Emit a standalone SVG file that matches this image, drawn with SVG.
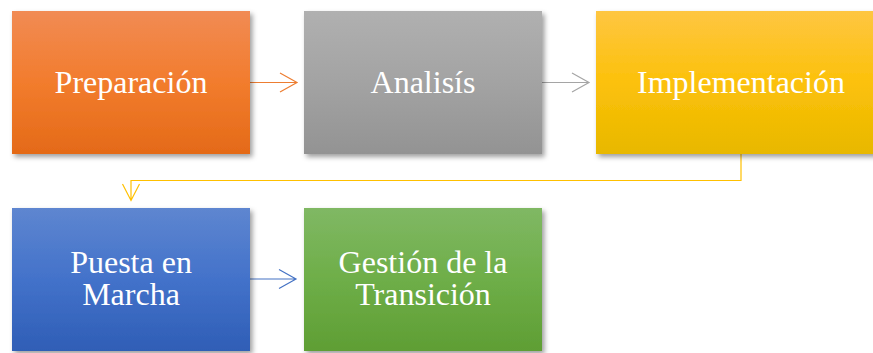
<svg xmlns="http://www.w3.org/2000/svg" width="873" height="353" viewBox="0 0 873 353">
<style>
  .box { filter: url(#sh); }
  .lbl { font-family: "Liberation Serif", "Times New Roman", serif; font-size: 32px; fill: #ffffff; text-anchor: middle; }
  .conn { fill: none; stroke-width: 1.2; }
</style>
<defs>
  <filter id="sh" x="-10%" y="-10%" width="125%" height="130%">
    <feDropShadow dx="2.5" dy="3" stdDeviation="2.5" flood-color="#000" flood-opacity="0.38"/>
  </filter>
  <linearGradient id="gO" x1="0" y1="0" x2="0" y2="1"><stop offset="0" stop-color="#F18B54"/><stop offset="0.5" stop-color="#F27C2D"/><stop offset="1" stop-color="#E46A18"/></linearGradient>
  <linearGradient id="gG" x1="0" y1="0" x2="0" y2="1"><stop offset="0" stop-color="#B0B0B0"/><stop offset="0.5" stop-color="#A3A3A3"/><stop offset="1" stop-color="#939393"/></linearGradient>
  <linearGradient id="gY" x1="0" y1="0" x2="0" y2="1"><stop offset="0" stop-color="#FEC642"/><stop offset="0.5" stop-color="#FCC10A"/><stop offset="1" stop-color="#E8B800"/></linearGradient>
  <linearGradient id="gB" x1="0" y1="0" x2="0" y2="1"><stop offset="0" stop-color="#5E86D0"/><stop offset="0.5" stop-color="#4372CA"/><stop offset="1" stop-color="#2F5EB6"/></linearGradient>
  <linearGradient id="gN" x1="0" y1="0" x2="0" y2="1"><stop offset="0" stop-color="#80B864"/><stop offset="0.5" stop-color="#6EAE48"/><stop offset="1" stop-color="#5F9E34"/></linearGradient>
</defs>
<rect width="873" height="353" fill="#ffffff"/>
<g id="connectors">
  <path class="conn" stroke="#ED7D31" d="M250 82.5 H297 M280 73 L297 82.5 L280 92"/>
  <path class="conn" stroke="#A5A5A5" d="M542 82.5 H589 M572 73 L589 82.5 L572 92"/>
  <path class="conn" stroke="#FFC000" d="M741 154 V180.5 H131 V200 M122.5 184 L131 200.5 L139.5 184"/>
  <path class="conn" stroke="#4472C4" d="M250 279 H296 M279 269.5 L296 279 L279 288.5"/>
</g>
<g id="n1"><rect class="box" x="12" y="11" width="238" height="143" fill="url(#gO)"/><text class="lbl" x="131" y="93">Preparación</text></g>
<g id="n2"><rect class="box" x="304" y="11" width="238" height="143" fill="url(#gG)"/><text class="lbl" x="423" y="93">Analisís</text></g>
<g id="n3"><rect class="box" x="596" y="11" width="290" height="143" fill="url(#gY)"/><text class="lbl" x="741" y="93">Implementación</text></g>
<g id="n4"><rect class="box" x="12" y="208" width="238" height="143" fill="url(#gB)"/><text class="lbl" x="131" y="273">Puesta en</text><text class="lbl" x="131" y="305">Marcha</text></g>
<g id="n5"><rect class="box" x="304" y="208" width="238" height="143" fill="url(#gN)"/><text class="lbl" x="423" y="273">Gestión de la</text><text class="lbl" x="423" y="305">Transición</text></g>
</svg>
